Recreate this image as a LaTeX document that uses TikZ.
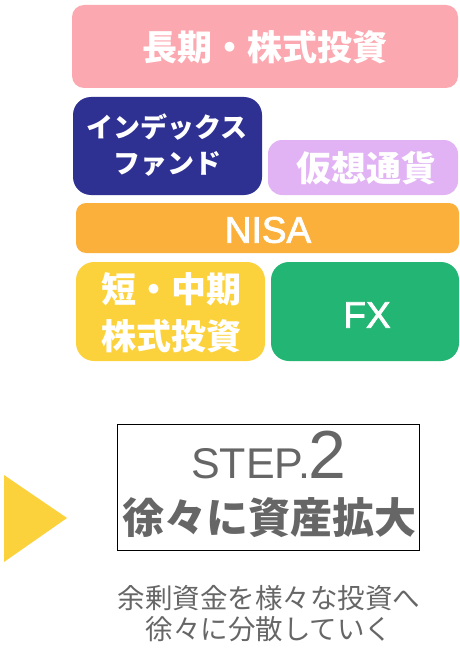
\documentclass[tikz,border=0pt]{standalone}
\usepackage{fontspec}
\setmainfont{Liberation Sans}
\newfontfamily\jpfont{Noto Sans CJK JP}
\newfontfamily\latinbold[FakeBold=2]{Liberation Sans}
\definecolor{longpink}{HTML}{FCA8B0}
\definecolor{indexblue}{HTML}{2E3192}
\definecolor{cryptolilac}{HTML}{E1B3F4}
\definecolor{nisaorange}{HTML}{FBB03B}
\definecolor{shortyellow}{HTML}{FCD23C}
\definecolor{fxgreen}{HTML}{22B573}
\definecolor{stepgray}{HTML}{666666}
\tikzset{
  jptext/.style={text=white, font=\jpfont\bfseries\fontsize{35}{47}\selectfont, align=center},
  latintext/.style={text=white, font=\latinbold\fontsize{37}{37}\selectfont}
}

\begin{document}
\begin{tikzpicture}[x=1pt, y=-1pt]
		\useasboundingbox (0,0) rectangle (460,650);
		%%%%% BLOCKS %%%%%
		
		\fill[longpink, rounded corners=12pt] (72, 5) rectangle (458, 88);
		\node[jptext] (longterm) at (265, 47) {長期・株式投資};
		
		\fill[indexblue, rounded corners=18pt] (73, 97) rectangle (262, 195);
		\node[jptext, font=\jpfont\bfseries\fontsize{27}{36}\selectfont] (indexfund) at (167, 145) {インデックス\\ファンド};
		
		\fill[cryptolilac, rounded corners=14pt] (268, 140) rectangle (458, 195);
		\node[jptext] (crypto) at (366, 168) {仮想通貨};
		
		\fill[nisaorange, rounded corners=10pt] (76, 203) rectangle (459, 253);
		\node[latintext] (nisa) at (268, 230) {NISA};
		
		\fill[shortyellow, rounded corners=18pt] (76, 262) rectangle (265, 361);
		\node[jptext] (shortterm) at (171, 313) {短・中期\\株式投資};
		
		\fill[fxgreen, rounded corners=18pt] (271, 262) rectangle (459, 361);
		\node[latintext] (fx) at (367, 315) {FX};
		
		%%%%% STEP %%%%%
		
		\fill[shortyellow] (4, 475) -- (67, 518) -- (4, 562) -- cycle;
		
		\draw[line width=0.8pt] (117, 424) rectangle (419, 550);
		\node[anchor=base, text=stepgray] (steplabel) at (269, 478) {\fontsize{43}{43}\selectfont STEP.\kern-1pt\fontsize{68}{68}\selectfont 2};
		\node[text=stepgray, font=\jpfont\bfseries\fontsize{42}{42}\selectfont] (stephead) at (269, 518) {徐々に資産拡大};
		
		\node[text=stepgray, font=\jpfont\fontsize{27.5}{31}\selectfont, align=center] (stepnote) at (269, 614) {余剰資金を様々な投資へ\\徐々に分散していく};
		
		%%%%% END %%%%%
\end{tikzpicture}
\end{document}
